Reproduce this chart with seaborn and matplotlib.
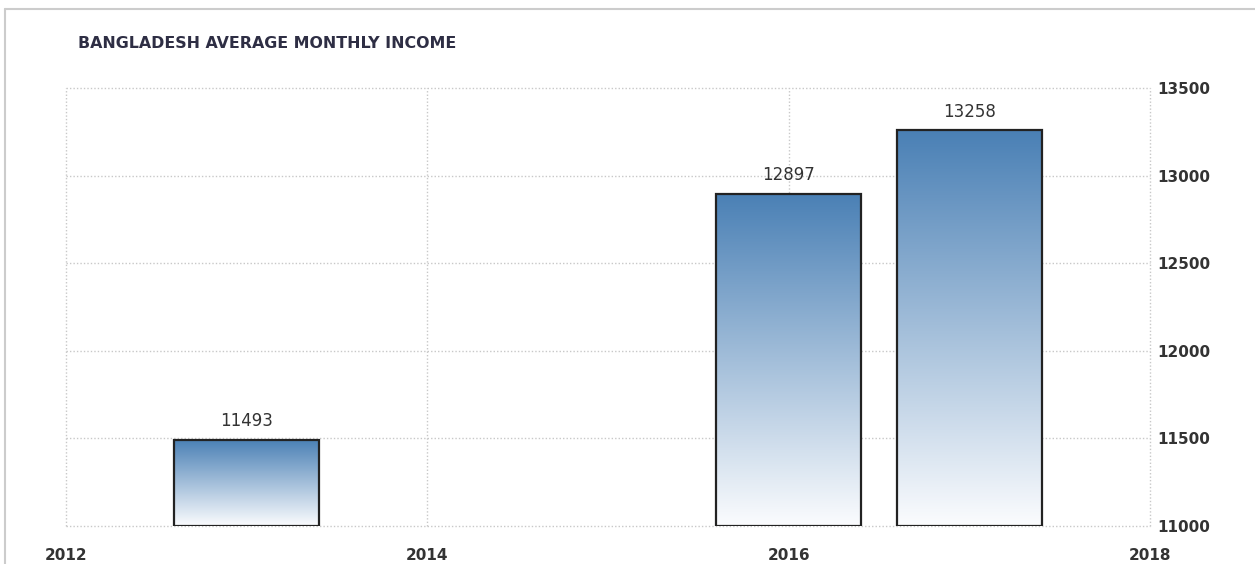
import matplotlib
matplotlib.use("Agg")
import matplotlib.pyplot as plt
import numpy as np
import seaborn as sns
from matplotlib.colors import LinearSegmentedColormap
from matplotlib.lines import Line2D

# values
years = [2013, 2016, 2017]
income = [11493, 12897, 13258]
title = "BANGLADESH AVERAGE MONTHLY INCOME"
x_ticks = [2012, 2014, 2016, 2018]
y_ticks = [11000, 11500, 12000, 12500, 13000, 13500]

Y_MIN, Y_MAX = 11000, 13500
TEXT = "#333333"

sns.set_style("white")
plt.rcParams["font.family"] = ["DejaVu Sans"]

fig = plt.figure(figsize=(12.55, 5.64), dpi=100)
ax = fig.add_axes([66 / 1255, 1 - 526 / 564, (1150 - 66) / 1255, (526 - 88) / 564])

sns.barplot(
    x=years,
    y=income,
    native_scale=True,
    orient="x",
    width=0.8,
    errorbar=None,
    facecolor="none",
    edgecolor="#222222",
    linewidth=1.6,
    ax=ax,
)

cmap = LinearSegmentedColormap.from_list("fade", ["#fbfcfe", "#4a80b5"])
grad = np.linspace(0, 1, 256).reshape(-1, 1)
for patch, val in zip(ax.patches, income):
    # bars start at the bottom of the visible range
    patch.set_y(Y_MIN)
    patch.set_height(val - Y_MIN)
    patch.set_zorder(3)
    x0 = patch.get_x()
    x1 = x0 + patch.get_width()
    img = ax.imshow(grad, cmap=cmap, origin="lower", aspect="auto",
                    extent=[x0, x1, Y_MIN, val], zorder=2)
    img.set_clip_path(patch)
    ax.annotate(f"{val}", (x0 + patch.get_width() / 2, val), xytext=(0, 7),
                textcoords="offset points", ha="center", va="bottom",
                fontsize=12, fontweight="medium", color=TEXT)

ax.set_xlim(2012, 2018)
ax.set_ylim(Y_MIN, Y_MAX)
ax.set_xticks(x_ticks)
ax.set_xticklabels([str(t) for t in x_ticks])
ax.set_yticks(y_ticks)
ax.yaxis.tick_right()
ax.grid(True, color="#c8c8c8", linestyle=(0, (1, 1.5)), linewidth=1)
ax.set_axisbelow(True)
for gl in ax.get_xgridlines() + ax.get_ygridlines():
    gl.set_clip_on(False)
for s in ax.spines.values():
    s.set_visible(False)
ax.tick_params(axis="x", length=6, color="#d5d5d5", pad=10, labelsize=11, labelcolor=TEXT)
ax.tick_params(axis="y", length=0, pad=5, labelsize=11, labelcolor=TEXT)
for lab in ax.get_xticklabels() + ax.get_yticklabels():
    lab.set_fontweight("bold")
ax.set_xlabel("")
ax.set_ylabel("")

fig.text(78 / 1255, 1 - 43 / 564, title, ha="left", va="center",
         fontsize=11.4, fontweight="bold", color="#2e2e44")

# light frame on top and left
fig.add_artist(Line2D([5 / 1255, 1], [1 - 9 / 564, 1 - 9 / 564], color="#cccccc", linewidth=1.5))
fig.add_artist(Line2D([5 / 1255, 5 / 1255], [0, 1 - 9 / 564], color="#cccccc", linewidth=1.5))

fig.savefig("out.png", dpi=100)
plt.close(fig)
